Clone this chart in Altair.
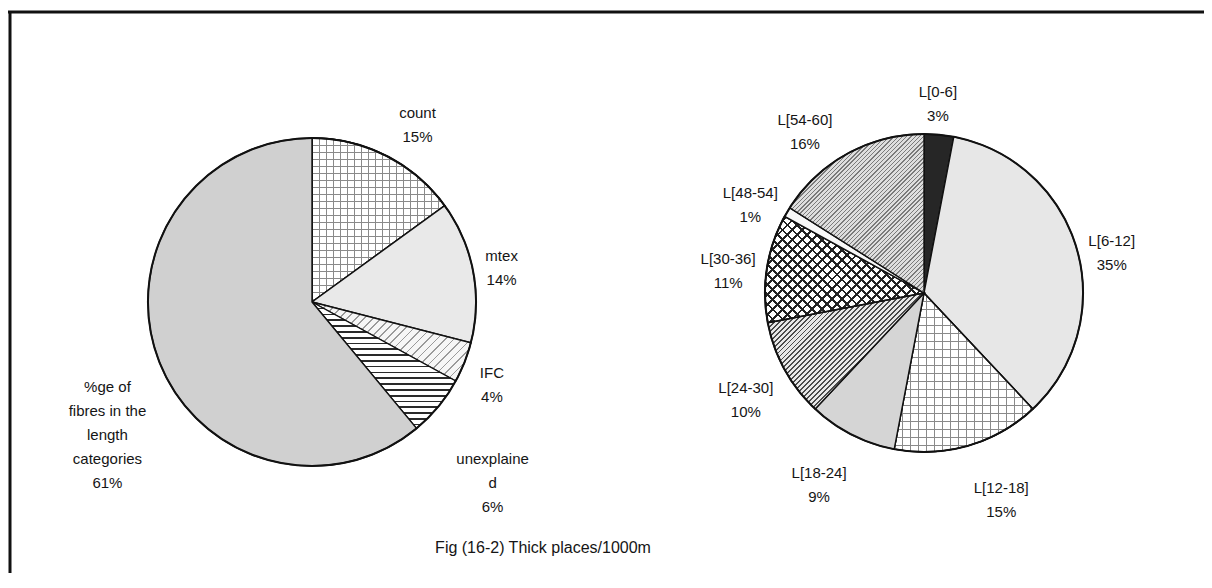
import math
from itertools import accumulate
import altair as alt
import pandas as pd

# ---------------- data ----------------
left_cats = ["count", "mtex", "IFC", "unexplained", "fibres"]
left_names = ["count", "mtex", "IFC", "unexplaine\nd", "%ge of\nfibres in the\nlength\ncategories"]
left_vals = [15, 14, 4, 6, 61]

right_cats = ["L[0-6]", "L[6-12]", "L[12-18]", "L[18-24]", "L[24-30]", "L[30-36]", "L[48-54]", "L[54-60]"]
right_vals = [3, 35, 15, 9, 10, 11, 1, 16]

title_text = "Fig (16-2) Thick places/1000m"

# ---------------- layout / style ----------------
W, H = 1196, 565
FONT = "Liberation Sans"
FS, LH = 15, 24
LC, LR = (304, 294), 164
RC, RR = (916, 285), 159
left_dist = [1.32, 1.19, 1.18, 1.46, 1.35]
left_nudge = [0.6, -0.8, 0.0, 0.4, -0.75]
right_dist = [1.27, 1.225, 1.32, 1.31, 1.27, 1.25, 1.26, 1.32]
right_nudge = [-0.4, 0.2, -1.5, 0.9, 0.2, 0.2, -0.2, -1.6]

TH = alt.Scale(domain=[0, 100], range=[0, 2 * math.pi])


def frame(cats, labels, vals, R, dist, nudge):
    ends = list(accumulate(vals))
    starts = [e - v for e, v in zip(ends, vals)]
    df = pd.DataFrame({"cat": cats, "label": labels, "value": vals, "start": starts, "end": ends})
    df["mid"] = (df["start"] + df["end"]) / 2 + pd.Series(nudge)
    df["lr"] = pd.Series(dist) * R
    return df


left_labels = [f"{n}\n{v}%" for n, v in zip(left_names, left_vals)]
right_labels = [f"{n}\n{v}%" for n, v in zip(right_cats, right_vals)]
dfl = frame(left_cats, left_labels, left_vals, LR, left_dist, left_nudge)
dfr = frame(right_cats, right_labels, right_vals, RR, right_dist, right_nudge)


def bbox(v0, v1, R):
    t0, t1 = v0 / 100 * 2 * math.pi, v1 / 100 * 2 * math.pi
    pts = [(0, 0), (R * math.sin(t0), -R * math.cos(t0)), (R * math.sin(t1), -R * math.cos(t1))]
    for k in range(5):
        a = k * math.pi / 2
        if t0 < a < t1:
            pts.append((R * math.sin(a), -R * math.cos(a)))
    xs = [p[0] for p in pts]
    ys = [p[1] for p in pts]
    return max(xs) - min(xs), max(ys) - min(ys)


def stripes(w, h, kind, spacing, lw, color, bg):
    s2 = 1 / math.sqrt(2)
    u = {"h": (0, 1), "v": (1, 0), "/": (s2, s2), "\\": (s2, -s2)}[kind]
    corners = [(0, 0), (1, 0), (0, 1), (1, 1)]
    fv = [(u[0] * w * X + u[1] * h * Y, (X, Y)) for X, Y in corners]
    fmin, p0 = min(fv)
    fmax = max(fv)[0]
    fr = fmax - fmin
    g = (u[0] * w, u[1] * h)
    g2 = g[0] ** 2 + g[1] ** 2
    d = (g[0] * fr / g2, g[1] * fr / g2)
    stops = []
    pos = 0.0
    while pos < fr:
        a = pos / fr
        b = min((pos + lw) / fr, 1)
        c = min((pos + spacing) / fr, 1)
        stops += [(a, color), (b, color), (b, bg), (c, bg)]
        pos += spacing
    return alt.LinearGradient(
        gradient="linear",
        stops=[alt.GradientStop(offset=round(o, 5), color=col) for o, col in stops],
        x1=p0[0], y1=p0[1], x2=round(p0[0] + d[0], 5), y2=round(p0[1] + d[1], 5),
    )


CLEAR = "rgba(255,255,255,0)"
# pattern spec per slice: list of fills (layered); str = flat colour, tuple = stripes
left_style = {
    "count": [("v", 7, 1.0, "#8a8a8a", "#ffffff"), ("h", 7, 1.0, "#8a8a8a", CLEAR)],
    "mtex": ["#e9e9e9"],
    "IFC": [("/", 6, 1.2, "#9a9a9a", "#f6f6f6")],
    "unexplained": [("h", 5.8, 1.7, "#2a2a2a", "#ffffff")],
    "fibres": ["#d0d0d0"],
}
right_style = {
    "L[0-6]": ["#262626"],
    "L[6-12]": ["#e7e7e7"],
    "L[12-18]": [("v", 8, 1.0, "#8a8a8a", "#ffffff"), ("h", 8, 1.0, "#8a8a8a", CLEAR)],
    "L[18-24]": ["#d5d5d5"],
    "L[24-30]": [("/", 3.5, 1.3, "#4a4a4a", "#e8e8e8")],
    "L[30-36]": [("/", 7, 2.0, "#222222", "#ffffff"), ("\\", 7, 2.0, "#222222", CLEAR)],
    "L[48-54]": ["#f8f8f8"],
    "L[54-60]": [("/", 3, 1.0, "#7a7a7a", "#dedede")],
}


def pie_layers(df, style, center, R):
    layers = []
    for _, row in df.iterrows():
        w, h = bbox(row["start"], row["end"], R)
        for spec in style[row["cat"]]:
            fill = spec if isinstance(spec, str) else stripes(w, h, *spec)
            layers.append(
                alt.Chart(df)
                .transform_filter(alt.datum.cat == row["cat"])
                .mark_arc(radius=R, fill=fill, stroke="#111111", strokeWidth=1.4)
                .encode(
                    theta=alt.Theta("start:Q", scale=TH),
                    theta2="end:Q",
                    x=alt.value(center[0]),
                    y=alt.value(center[1]),
                )
            )
    one = pd.DataFrame({"k": [0]})
    layers.append(
        alt.Chart(one)
        .mark_arc(radius=R, theta=0, theta2=2 * math.pi, fillOpacity=0, stroke="#111111", strokeWidth=2)
        .encode(x=alt.value(center[0]), y=alt.value(center[1]))
    )
    layers.append(
        alt.Chart(df)
        .mark_text(font=FONT, fontSize=FS, lineBreak="\n", lineHeight=LH, align="center",
                   baseline="middle", color="#151515")
        .encode(
            theta=alt.Theta("mid:Q", scale=TH, stack=False),
            radius=alt.Radius("lr:Q", scale=None),
            text="label:N",
            x=alt.value(center[0]),
            y=alt.value(center[1]),
        )
    )
    return layers


one = pd.DataFrame({"k": [0]})
frame_top = alt.Chart(one).mark_rule(stroke="#111111", strokeWidth=3).encode(
    x=alt.value(0), x2=alt.value(W), y=alt.value(4))
frame_left = alt.Chart(one).mark_rule(stroke="#111111", strokeWidth=3).encode(
    x=alt.value(2), y=alt.value(4), y2=alt.value(H))
title = alt.Chart(one).mark_text(text=title_text, font=FONT, fontSize=16, color="#151515",
                                 align="center", baseline="middle").encode(
    x=alt.value(535), y=alt.value(540))

chart = alt.layer(
    *pie_layers(dfl, left_style, LC, LR),
    *pie_layers(dfr, right_style, RC, RR),
    frame_top, frame_left, title,
).properties(
    width=W, height=H, padding=0, autosize=alt.AutoSizeParams(type="none"), background="white"
).configure_view(stroke=None)

chart.save("out.html", embed_options={"renderer": "svg", "actions": False})
